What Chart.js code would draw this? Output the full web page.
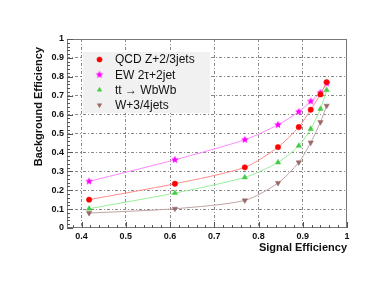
<!DOCTYPE html>
<html>
<head>
<meta charset="utf-8">
<script src="https://cdn.jsdelivr.net/npm/chart.js@4.4.0/dist/chart.umd.min.js"></script>
<style>html,body{margin:0;padding:0;background:#fff}</style>
</head>
<body>
<canvas id="chart" width="374" height="289"></canvas>
<script>
// values
const signalEff = [0.417, 0.611, 0.769, 0.844, 0.891, 0.918, 0.940, 0.954];
const qcdZjets  = [0.150, 0.234, 0.321, 0.428, 0.534, 0.626, 0.707, 0.772];
const ewTauJet  = [0.247, 0.361, 0.467, 0.546, 0.615, 0.670, 0.716, 0.765];
const ttWbWb    = [0.102, 0.185, 0.268, 0.347, 0.435, 0.524, 0.630, 0.730];
const wJets     = [0.079, 0.102, 0.146, 0.238, 0.347, 0.452, 0.560, 0.647];
const seriesLabels = ['QCD Z+2/3jets', 'EW 2\u03c4+2jet', 'tt \u2192 WbWb', 'W+3/4jets'];
const xTicks = [0.4, 0.5, 0.6, 0.7, 0.8, 0.9, 1];
const yTicks = [0, 0.1, 0.2, 0.3, 0.4, 0.5, 0.6, 0.7, 0.8, 0.9, 1];

const FONT = '"Liberation Sans", Arial, Helvetica, sans-serif';

function starImage(r, color) {
    const c = document.createElement('canvas');
    c.width = c.height = Math.ceil(r * 2 + 2);
    const g = c.getContext('2d');
    const cx = c.width / 2, cy = c.height / 2;
    g.beginPath();
    for (let i = 0; i < 10; i++) {
        const rad = i % 2 === 0 ? r : r * 0.45;
        const a = -Math.PI / 2 + i * Math.PI / 5;
        g.lineTo(cx + rad * Math.cos(a), cy + rad * Math.sin(a));
    }
    g.closePath();
    g.fillStyle = color;
    g.fill();
    return c;
}
const star = starImage(4, '#ff00ff');

function pts(ys) { return signalEff.map((x, i) => ({x: x, y: ys[i]})); }

const datasets = [
    { label: seriesLabels[0], data: pts(qcdZjets), borderColor: '#ff8a8a', backgroundColor: '#ff0000',
      pointStyle: 'circle', pointRadius: 2.7, pointBorderColor: '#ff0000' },
    { label: seriesLabels[1], data: pts(ewTauJet), borderColor: '#ff88ff', backgroundColor: '#ff00ff',
      pointStyle: star, pointRadius: 4, pointBorderColor: '#ff00ff' },
    { label: seriesLabels[2], data: pts(ttWbWb), borderColor: '#99ee99', backgroundColor: '#44cc44',
      pointStyle: 'triangle', pointRadius: 3.1, pointBorderColor: '#44cc44' },
    { label: seriesLabels[3], data: pts(wJets), borderColor: '#bfa3a3', backgroundColor: '#9a6a6a',
      pointStyle: 'triangle', pointRotation: 180, pointRadius: 3.1, pointBorderColor: '#9a6a6a' }
].map(d => Object.assign(d, { borderWidth: 1, pointBorderWidth: 0.5, tension: 0.25, fill: false, clip: false }));

// frame, inner ticks, legend box and y title, drawn the ROOT way
const rootDecor = {
    id: 'rootDecor',
    afterDatasetsDraw(chart) {
        const ctx = chart.ctx, a = chart.chartArea;
        const xs = chart.scales.x, ys = chart.scales.y;
        ctx.save();
        ctx.strokeStyle = '#777';
        ctx.lineWidth = 1;
        ctx.strokeRect(a.left + 0.5, a.top + 0.5, a.right - a.left - 1, a.bottom - a.top - 1);
        ctx.strokeStyle = '#555';
        ctx.beginPath();
        for (let k = 0; k <= 50; k++) {
            const v = k * 0.02;
            const major = k % 5 === 0;
            const py = Math.round(ys.getPixelForValue(v)) + 0.5;
            ctx.moveTo(a.left, py); ctx.lineTo(a.left + (major ? 6 : 3), py);
        }
        for (let k = 19; k <= 50; k++) {
            const v = k * 0.02;
            if (v < xs.min) continue;
            const major = k % 5 === 0;
            const px = Math.round(xs.getPixelForValue(v)) + 0.5;
            ctx.moveTo(px, a.bottom); ctx.lineTo(px, a.bottom - (major ? 6 : 3));
        }
        ctx.stroke();

        // legend
        const lx = 83, ly = 52, lw = 127, lh = 61;
        ctx.fillStyle = '#f1f1f1';
        ctx.fillRect(lx, ly, lw, lh);
        ctx.font = '12px ' + FONT;
        ctx.textBaseline = 'middle';
        ctx.textAlign = 'left';
        chart.data.datasets.forEach((d, i) => {
            const cy = 59.5 + i * 15.2;
            ctx.fillStyle = d.backgroundColor;
            ctx.strokeStyle = d.pointBorderColor;
            ctx.lineWidth = 0.5;
            Chart.helpers.drawPoint(ctx, { pointStyle: d.pointStyle, rotation: d.pointRotation || 0,
                radius: i === 1 ? 4 : 2.6, borderWidth: 0.5 }, 99.5, cy);
            ctx.fillStyle = '#111';
            ctx.fillText(d.label, 115, cy + 0.5);
        });

        // y title
        ctx.translate(39, 47);
        ctx.rotate(-Math.PI / 2);
        ctx.font = 'bold 11px ' + FONT;
        ctx.textAlign = 'right';
        ctx.fillStyle = '#111';
        ctx.fillText('Background Efficiency', 0, 0);
        ctx.restore();
    }
};

new Chart(document.getElementById('chart'), {
    type: 'line',
    data: { datasets: datasets },
    options: {
        responsive: false,
        animation: false,
        layout: { padding: { top: 39, right: 27, left: 0, bottom: 0 } },
        plugins: { legend: { display: false }, tooltip: { enabled: false } },
        scales: {
            x: {
                type: 'linear', min: 0.367, max: 1.0,
                afterBuildTicks: s => { s.ticks = xTicks.map(v => ({ value: v })); },
                afterFit: s => { s.height = 61; },
                ticks: { color: '#111', padding: 3, font: { family: FONT, size: 9, weight: 'bold' },
                         maxRotation: 0, autoSkip: false, callback: v => String(v) },
                grid: { drawTicks: false, lineWidth: 1,
                        color: c => (c.tick && c.tick.value >= 1) ? 'rgba(0,0,0,0)' : '#888' },
                border: { display: false, dash: [3, 2, 1, 2] },
                title: { display: true, text: 'Signal Efficiency', align: 'end', color: '#111',
                         font: { family: FONT, size: 11, weight: 'bold' }, padding: { top: 0, bottom: 34 } }
            },
            y: {
                type: 'linear', min: 0, max: 1,
                afterBuildTicks: s => { s.ticks = yTicks.map(v => ({ value: v })); },
                afterFit: s => { s.width = 67; },
                ticks: { color: '#111', padding: 3, font: { family: FONT, size: 9, weight: 'bold' },
                         autoSkip: false, callback: v => String(v) },
                grid: { drawTicks: false, lineWidth: 1,
                        color: c => (c.tick && (c.tick.value <= 0 || c.tick.value >= 1)) ? 'rgba(0,0,0,0)' : '#888' },
                border: { display: false, dash: [3, 2, 1, 2] }
            }
        }
    },
    plugins: [rootDecor]
});
</script>
</body>
</html>
